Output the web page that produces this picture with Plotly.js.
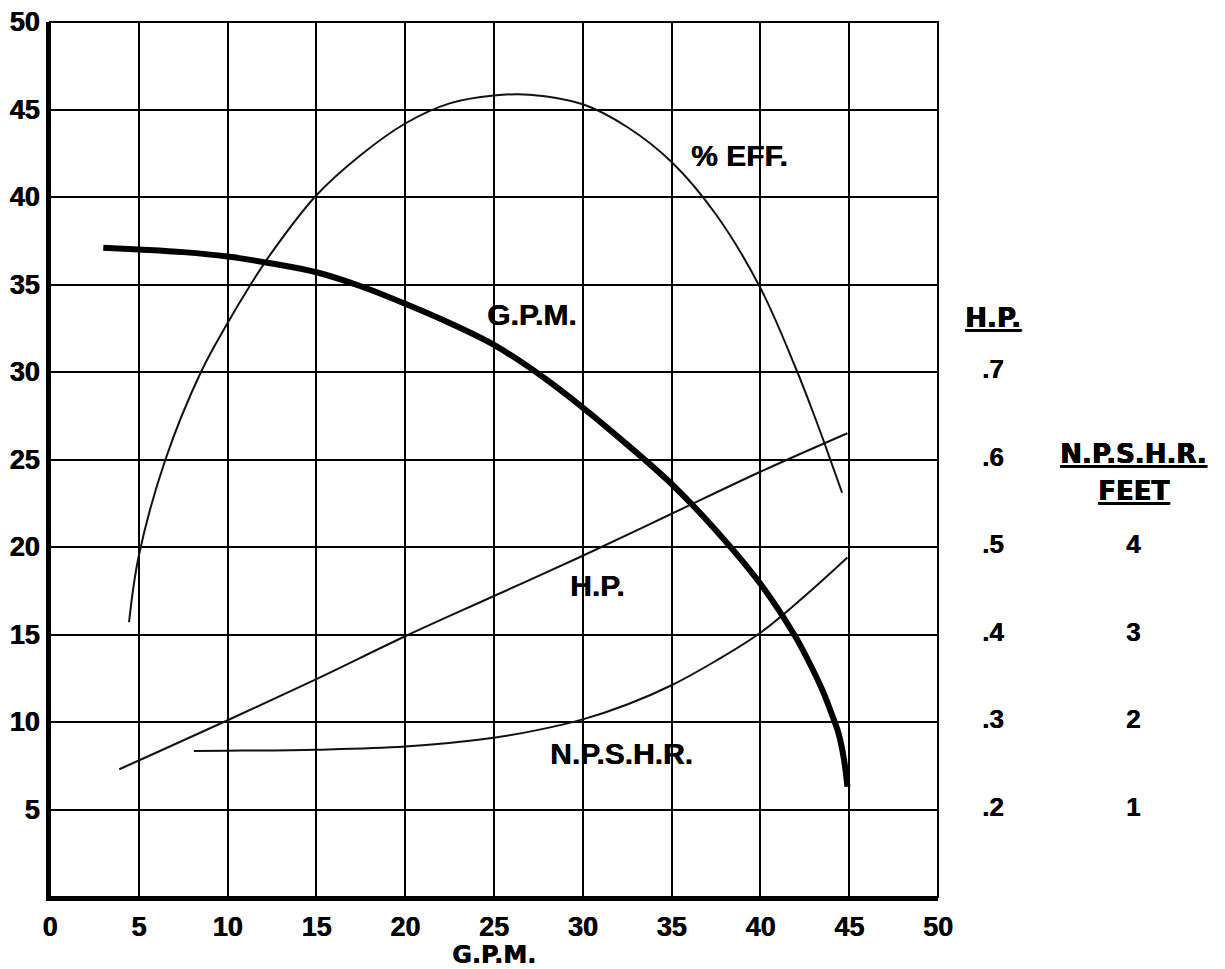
<!DOCTYPE html>
<html>
<head>
<meta charset="utf-8">
<script src="https://cdn.plot.ly/plotly-3.0.1.min.js"></script>
<style>html,body{margin:0;padding:0;background:#fff;}#chart{width:1225px;height:969px;}</style>
</head>
<body>
<div id="chart"></div>
<script>
// Head (G.P.M.) curve
var gpmX = [3, 5, 7.5, 10, 12.5, 15, 17.5, 20, 22.5, 25, 27.5, 30, 32.5, 35, 37.5, 40, 41.9, 42.6, 43.5, 44.0, 44.4, 44.7, 44.9];
var gpmY = [37.1, 37.0, 36.85, 36.6, 36.2, 35.7, 34.9, 33.9, 32.8, 31.55, 29.9, 27.97, 25.85, 23.6, 20.95, 17.9, 15.0, 13.7, 11.8, 10.5, 9.35, 7.9, 6.3];
// Efficiency curve
var effX = [4.45, 5, 6.5, 8.5, 10, 11.3, 12.5, 15, 17.5, 20, 22.5, 25, 27, 30, 32.5, 35, 37.5, 40, 42, 43, 43.6, 44.6];
var effY = [15.7, 19.5, 25.0, 30.0, 32.8, 35.0, 36.85, 40.1, 42.4, 44.2, 45.35, 45.8, 45.85, 45.3, 44.0, 42.0, 39.0, 34.8, 30.2, 27.6, 25.95, 23.1];
// Horsepower curve
var hpX = [3.9, 5, 10, 15, 20, 25, 30, 35, 40, 44.9];
var hpY = [7.3, 7.8, 10.1, 12.45, 14.9, 17.2, 19.5, 21.9, 24.3, 26.5];
// NPSHR curve
var npX = [8.1, 10, 15, 20, 25, 27.5, 30, 32.5, 35, 37.5, 40, 42.5, 44.9];
var npY = [8.35, 8.36, 8.42, 8.6, 9.1, 9.55, 10.15, 11.0, 12.1, 13.5, 15.1, 17.2, 19.4];

// Axis ticks
var xTicks = [0, 5, 10, 15, 20, 25, 30, 35, 40, 45, 50];
var yTicks = [5, 10, 15, 20, 25, 30, 35, 40, 45, 50];

// Secondary scales (right side)
var hpScaleLabels = ['.7', '.6', '.5', '.4', '.3', '.2'];
var hpScaleAt = [30, 25, 20, 15, 10, 5];
var npScaleLabels = ['4', '3', '2', '1'];
var npScaleAt = [20, 15, 10, 5];

// Curve labels
var curveLabels = ['% EFF.', 'G.P.M.', 'H.P.', 'N.P.S.H.R.'];
var curveLabelX = [38.85, 27.1, 30.8, 32.2];
var curveLabelY = [42.4, 33.3, 17.8, 8.2];

var FONT = '"Liberation Sans", Arial, Helvetica, sans-serif';
var HEAVY = '"DejaVu Sans", "Liberation Sans", Arial, sans-serif';
var THICK = '0.6px 0 0 #000';

var thin = {color: '#111', width: 2, shape: 'spline', smoothing: 1};
var traces = [
  {x: effX, y: effY, mode: 'lines', line: thin, hoverinfo: 'skip'},
  {x: hpX, y: hpY, mode: 'lines', line: thin, hoverinfo: 'skip'},
  {x: npX, y: npY, mode: 'lines', line: thin, hoverinfo: 'skip'},
  {x: gpmX, y: gpmY, mode: 'lines', line: {color: '#000', width: 6, shape: 'spline', smoothing: 1}, hoverinfo: 'skip'}
];

var annotations = [];
for (var i = 0; i < curveLabels.length; i++) {
  annotations.push({x: curveLabelX[i], y: curveLabelY[i], xref: 'x', yref: 'y', xanchor: 'center', yanchor: 'middle',
    text: '<b>' + curveLabels[i] + '</b>', showarrow: false, font: {family: FONT, size: 30, color: '#000', weight: 700, shadow: THICK}});
}
var hpCol = (993 - 50) / 888;
var npCol = (1133 - 50) / 888;
var headers = [
  {text: 'H.P.', x: hpCol, py: 318},
  {text: 'N.P.S.H.R.', x: npCol, py: 454},
  {text: 'FEET', x: npCol, py: 491}
];
headers.forEach(function (h) {
  annotations.push({x: h.x, y: 1 - (h.py - 22) / 875, xref: 'paper', yref: 'paper', xanchor: 'center', yanchor: 'middle',
    text: '<b><u>' + h.text + '</u></b>', showarrow: false, font: {family: HEAVY, size: 26, color: '#000', weight: 700, shadow: THICK}});
});
for (var j = 0; j < hpScaleLabels.length; j++) {
  annotations.push({x: hpCol, y: hpScaleAt[j], xref: 'paper', yref: 'y', xanchor: 'center', yanchor: 'middle', yshift: 3,
    text: '<b>' + hpScaleLabels[j] + '</b>', showarrow: false, font: {family: FONT, size: 26, color: '#000', weight: 700, shadow: THICK}});
}
for (var k = 0; k < npScaleLabels.length; k++) {
  annotations.push({x: npCol, y: npScaleAt[k], xref: 'paper', yref: 'y', xanchor: 'center', yanchor: 'middle', yshift: 3,
    text: '<b>' + npScaleLabels[k] + '</b>', showarrow: false, font: {family: FONT, size: 26, color: '#000', weight: 700, shadow: THICK}});
}

var layout = {
  width: 1225, height: 969, autosize: false,
  margin: {l: 50, r: 287, t: 22, b: 72, pad: 0},
  paper_bgcolor: '#fff', plot_bgcolor: '#fff',
  showlegend: false,
  xaxis: {
    range: [0, 50], tickvals: xTicks, ticktext: xTicks.map(function (v) { return '<b>' + v + '</b>'; }),
    showgrid: true, gridcolor: '#000', gridwidth: 2, zeroline: false,
    showline: true, linecolor: '#000', linewidth: 4,
    ticks: '', ticklabelstandoff: 3,
    tickfont: {family: FONT, size: 27, color: '#000', weight: 700, shadow: THICK},
    title: {text: '<b>G.P.M.</b>', standoff: 2, font: {family: HEAVY, size: 24, color: '#000', weight: 700, shadow: THICK}},
    fixedrange: true
  },
  yaxis: {
    range: [0, 50], tickvals: yTicks, ticktext: yTicks.map(function (v) { return '<b>' + v + '</b>'; }),
    showgrid: true, gridcolor: '#000', gridwidth: 2, zeroline: false,
    showline: true, linecolor: '#000', linewidth: 4,
    ticks: '', ticklabelstandoff: 1,
    tickfont: {family: FONT, size: 27, color: '#000', weight: 700, shadow: THICK},
    fixedrange: true
  },
  shapes: [
    {type: 'rect', xref: 'paper', yref: 'paper', x0: 0, x1: 1, y0: 0, y1: 1, line: {color: '#000', width: 2}, layer: 'below'}
  ],
  annotations: annotations
};

Plotly.newPlot('chart', traces, layout, {displayModeBar: false, staticPlot: true});
</script>
</body>
</html>
